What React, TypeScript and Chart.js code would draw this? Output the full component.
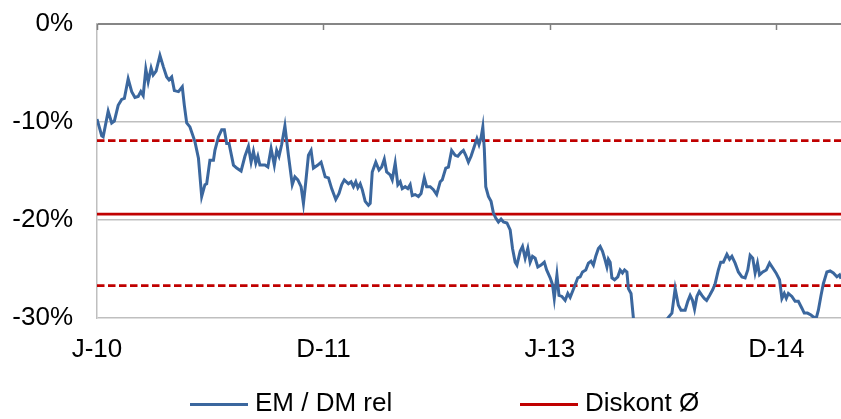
import React, { useEffect, useRef } from "react";
import { Chart, registerables } from "chart.js";

Chart.register(...registerables);

// x positions in weeks since the first observation
const weeks = [
  0, 1.6, 2.1, 3.8, 5.0, 5.9, 7.2, 8.4, 9.3, 10.6, 11.8, 12.9, 14.0, 14.9, 15.7, 16.6, 17.4, 18.4, 19.1, 20.1,
  21.4, 22.6, 23.7, 24.5, 25.4, 26.3, 27.7, 29.0, 29.7, 30.5, 31.6, 33.3, 34.5, 35.6, 36.7, 37.3, 38.4, 39.6, 40.1, 41.3,
  42.4, 43.3, 44.1, 44.9, 46.4, 47.5, 49.0, 50.3, 51.5, 52.4, 53.2, 54.0, 54.7, 55.4, 57.1, 58.1, 59.2, 60.3, 61.1, 61.9,
  62.8, 63.9, 65.1, 66.4, 67.3, 68.3, 69.4, 70.2, 71.0, 71.9, 72.8, 73.6, 75.1, 76.2, 77.6, 78.7, 79.8, 81.2, 82.3, 83.2,
  84.1, 85.5, 86.4, 87.2, 88.0, 88.7, 89.5, 90.2, 91.2, 92.3, 92.9, 93.6, 94.8, 95.9, 96.8, 97.7, 98.5, 99.7, 100.4, 101.4,
  102.3, 103.1, 103.8, 104.8, 105.7, 106.5, 107.2, 108.2, 109.3, 110.2, 111.3, 112.1, 113.3, 114.4, 115.5, 116.7, 117.4, 118.6, 119.5, 120.6,
  121.8, 122.7, 123.8, 124.6, 125.4, 126.3, 127.2, 128.3, 129.2, 129.9, 130.6, 131.2, 131.7, 132.2, 133.1, 134.0, 134.8, 135.6, 136.5, 137.4,
  138.2, 139.4, 140.5, 141.3, 142.2, 142.8, 143.9, 144.7, 145.6, 146.5, 147.3, 148.1, 149.0, 149.9, 151.0, 152.1, 152.9, 154.1, 154.9, 155.5,
  156.4, 157.1, 158.1, 159.2, 160.1, 160.9, 161.7, 162.6, 163.5, 164.3, 165.1, 166.2, 167.1, 168.0, 168.8, 169.6, 170.5, 171.1, 171.9, 172.6,
  173.4, 173.9, 174.5, 175.1, 176.0, 177.1, 177.9, 178.7, 179.4, 180.2, 180.7, 181.6, 182.4, 183.2, 186.0, 189.0, 192.0, 193.6, 194.1, 195.5,
  196.6, 197.7, 198.6, 200.0, 200.9, 201.7, 202.5, 203.2, 204.0, 204.8, 205.7, 206.5, 207.3, 208.3, 209.4, 210.2, 211.3, 212.1, 213.0, 214.2,
  215.1, 215.9, 217.0, 218.1, 219.3, 220.4, 221.3, 222.1, 223.0, 223.8, 224.6, 225.3, 226.4, 227.6, 228.7, 229.8, 230.9, 232.1, 232.9, 233.7,
  234.4, 235.1, 236.3, 237.4, 238.5, 239.7, 240.5, 241.6, 242.8, 243.6, 244.6, 245.3, 246.2, 247.0, 248.2, 249.3, 250.4, 251.6, 252.5, 253.0,
];

// EM / DM relative performance, %
const emDmRel = [
  -9.7, -11.4, -11.5, -8.9, -10.1, -9.9, -8.3, -7.7, -7.6, -5.6, -6.9, -7.5, -7.4, -6.9, -7.3, -4.6, -5.9, -4.5, -5.2, -4.8,
  -3.2, -4.4, -5.4, -5.7, -5.4, -6.8, -6.9, -6.4, -8.3, -10.1, -10.5, -12.0, -13.7, -17.6, -16.4, -16.3, -13.9, -13.9, -12.9, -11.5,
  -10.8, -10.8, -12.2, -12.2, -14.4, -14.7, -15.0, -13.5, -12.5, -14.1, -13.0, -14.2, -13.5, -14.4, -14.4, -14.6, -12.7, -14.4, -12.9, -13.5,
  -12.3, -10.4, -13.4, -16.4, -15.6, -15.9, -16.6, -18.3, -16.1, -13.4, -12.9, -14.7, -14.4, -14.1, -15.6, -15.7, -16.8, -17.9, -17.3, -16.4,
  -15.9, -16.3, -16.1, -16.6, -16.1, -16.7, -16.3, -16.9, -18.1, -18.5, -18.3, -15.1, -14.1, -14.9, -14.6, -13.8, -15.1, -15.4, -15.9, -14.2,
  -16.4, -16.1, -16.8, -16.6, -16.8, -16.4, -17.5, -17.4, -17.6, -17.3, -15.7, -16.6, -16.6, -16.9, -17.4, -16.1, -15.9, -14.7, -14.6, -12.9,
  -13.4, -13.5, -13.1, -12.9, -13.4, -14.1, -13.5, -12.5, -11.7, -12.3, -11.6, -10.5, -12.7, -16.6, -17.6, -18.1, -19.3, -19.8, -20.2, -19.9,
  -20.2, -20.3, -21.0, -22.9, -24.3, -24.6, -23.2, -22.7, -23.9, -22.9, -24.3, -23.7, -23.9, -24.8, -24.6, -24.3, -25.1, -25.9, -26.6, -28.0,
  -25.6, -27.7, -27.8, -28.2, -27.5, -27.9, -27.3, -26.6, -25.9, -25.8, -25.3, -25.1, -24.4, -24.2, -24.6, -23.7, -22.9, -22.7, -23.2, -23.9,
  -24.8, -24.0, -24.3, -25.9, -26.1, -25.8, -25.1, -25.4, -25.1, -25.3, -27.0, -27.5, -30.0, -32.4, -33.5, -34.0, -33.0, -31.3, -30.0, -29.5,
  -27.0, -28.7, -29.2, -29.2, -28.3, -27.7, -28.2, -29.1, -27.8, -27.3, -27.7, -28.0, -28.2, -27.7, -27.1, -26.5, -25.1, -24.3, -24.3, -23.5,
  -24.0, -23.7, -24.4, -25.3, -25.8, -25.9, -25.1, -23.6, -23.9, -25.4, -24.4, -25.6, -25.3, -25.1, -24.4, -24.9, -25.4, -26.1, -28.0, -27.5,
  -28.0, -27.5, -27.8, -28.3, -28.3, -29.0, -29.5, -29.5, -29.7, -29.9, -30.0, -29.2, -27.7, -26.5, -25.3, -25.2, -25.4, -25.8, -25.6, -26.0,
];

const discountMean = -19.4;
const bandUpper = -11.9;
const bandLower = -26.7;
const lastWeek = 253;

const tickWeeks = [0, 77, 154, 231];
const tickLabels = ["J-10", "D-11", "J-13", "D-14"];
const yTicks = [0, -10, -20, -30];

const seriesNames = ["EM / DM rel", "Diskont Ø"];
const seriesColors = ["#3b679e", "#c00000"];

const FONT = "'Liberation Sans', Arial, sans-serif";

export default function App() {
  const ref = useRef<HTMLCanvasElement>(null);

  useEffect(() => {
    if (!ref.current) return;
    const topTicks = {
      id: "topTicks",
      afterDatasetsDraw(chart: any) {
        const { ctx, chartArea, scales } = chart;
        ctx.save();
        ctx.strokeStyle = "#808080";
        ctx.lineWidth = 1.5;
        tickWeeks.forEach((w) => {
          const x = Math.round(scales.x.getPixelForValue(w)) + 0.5;
          ctx.beginPath();
          ctx.moveTo(x, chartArea.top);
          ctx.lineTo(x, chartArea.top + 6);
          ctx.stroke();
        });
        ctx.restore();
      },
    };
    const flat = (v: number) => [
      { x: weeks[0], y: v },
      { x: lastWeek, y: v },
    ];
    const chart = new Chart(ref.current, {
      type: "line",
      data: {
        datasets: [
          {
            label: seriesNames[0],
            data: weeks.map((w, i) => ({ x: w, y: emDmRel[i] })),
            borderColor: seriesColors[0],
            borderWidth: 3,
            pointRadius: 0,
            tension: 0,
          },
          {
            label: seriesNames[1],
            data: flat(discountMean),
            borderColor: seriesColors[1],
            borderWidth: 2.8,
            pointRadius: 0,
          },
          {
            label: "upper",
            data: flat(bandUpper),
            borderColor: seriesColors[1],
            borderWidth: 2.8,
            borderDash: [7.5, 3.5],
            pointRadius: 0,
          },
          {
            label: "lower",
            data: flat(bandLower),
            borderColor: seriesColors[1],
            borderWidth: 2.8,
            borderDash: [7.5, 3.5],
            pointRadius: 0,
          },
        ],
      },
      options: {
        animation: false,
        responsive: true,
        maintainAspectRatio: false,
        layout: { padding: { top: 24, right: 0, bottom: 0, left: 0 } },
        plugins: { legend: { display: false }, tooltip: { enabled: false } },
        scales: {
          x: {
            type: "linear",
            min: 0,
            max: lastWeek,
            grid: { display: false, drawTicks: false },
            border: { display: false },
            afterBuildTicks: (s: any) => {
              s.ticks = tickWeeks.map((v) => ({ value: v }));
            },
            afterFit: (s: any) => {
              s.height = 101;
              s.paddingLeft = 0;
              s.paddingRight = 0;
            },
            ticks: {
              autoSkip: false,
              maxRotation: 0,
              padding: 16,
              color: "#000",
              font: { family: FONT, size: 26 },
              callback: (v: any) => {
                const i = tickWeeks.indexOf(Number(v));
                return i >= 0 ? tickLabels[i] : "";
              },
            },
          },
          y: {
            min: -30,
            max: 0,
            afterBuildTicks: (s: any) => {
              s.ticks = yTicks.map((v) => ({ value: v }));
            },
            afterFit: (s: any) => {
              s.width = 97;
              s.paddingTop = 0;
              s.paddingBottom = 0;
            },
            grid: {
              drawTicks: false,
              color: (c: any) => (c.tick && c.tick.value === 0 ? "#868686" : "#bfbfbf"),
              lineWidth: (c: any) => (c.tick && c.tick.value === 0 ? 2 : 1.5),
            },
            border: { color: "#bfbfbf", width: 1.5 },
            ticks: {
              padding: 24,
              color: "#000",
              font: { family: FONT, size: 26 },
              callback: (v: any) => `${v}%`,
            },
          },
        },
      },
      plugins: [topTicks],
    });
    return () => chart.destroy();
  }, []);

  const legendItems = [
    { line: 190, text: 255 },
    { line: 520, text: 585 },
  ];

  return (
    <div style={{ position: "fixed", left: 0, top: 0, width: 841, height: 419, background: "#fff" }}>
      <div style={{ position: "absolute", left: 0, top: 0, width: 841, height: 419 }}>
        <canvas ref={ref} />
      </div>
      {legendItems.map((it, i) => (
        <React.Fragment key={i}>
          <div
            style={{
              position: "absolute",
              left: it.line,
              top: 403,
              width: 58,
              height: 3,
              background: seriesColors[i],
            }}
          />
          <div
            style={{
              position: "absolute",
              left: it.text,
              top: 387,
              font: `26px ${FONT}`,
              lineHeight: "30px",
              color: "#000",
              whiteSpace: "nowrap",
            }}
          >
            {seriesNames[i]}
          </div>
        </React.Fragment>
      ))}
    </div>
  );
}
